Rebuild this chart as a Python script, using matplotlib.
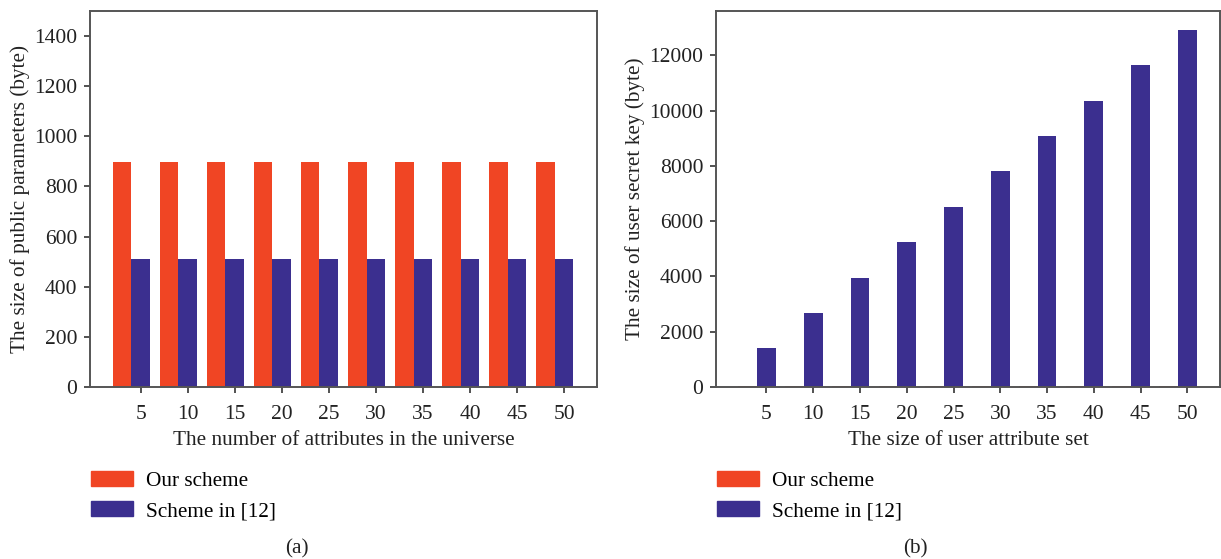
import numpy as np
import matplotlib.pyplot as plt
from matplotlib.patches import Patch

plt.rcParams['font.family'] = ['Liberation Serif', 'DejaVu Serif']

# nombre d'attributs (axe x des deux graphes)
attributs = [5, 10, 15, 20, 25, 30, 35, 40, 45, 50]

# (a) taille des parametres publics en octets
pp_notre = [896, 896, 896, 896, 896, 896, 896, 896, 896, 896]
pp_ref12 = [510, 510, 510, 510, 510, 510, 510, 510, 510, 510]

# (b) taille de la cle secrete utilisateur en octets
sk_notre = [45, 45, 45, 45, 45, 45, 45, 45, 45, 45]
sk_ref12 = [1400, 2660, 3960, 5230, 6520, 7800, 9090, 10360, 11650, 12920]

rouge = '#F04524'
bleu = '#3B2F8F'
gris = '#555555'
texte = '#222222'

fig = plt.figure(figsize=(12.21, 5.59), dpi=100)
ax1 = fig.add_axes([0.0737, 0.3077, 0.4152, 0.6726])
ax2 = fig.add_axes([0.5864, 0.3077, 0.4128, 0.6726])

x = np.arange(len(attributs))
larg = 0.4


def trace(ax, notre, ref, ymax, pas, xlabel, ylabel):
    ax.bar(x - larg, notre, larg, color=rouge, label='Our scheme')
    ax.bar(x, ref, larg, color=bleu, label='Scheme in [12]')
    ax.set_xlim(-1.08, 9.7)
    ax.set_ylim(0, ymax)
    ax.set_xticks(x)
    ax.set_xticklabels([str(a) for a in attributs])
    ax.set_yticks(np.arange(0, ymax, pas))
    ax.tick_params(labelsize=15.5, length=4, width=1.2, color='#333333',
                   labelcolor=texte, pad=5)
    ax.tick_params(axis='x', pad=9)
    for s in ax.spines.values():
        s.set_color(gris)
        s.set_linewidth(1.4)
    ax.set_xlabel(xlabel, fontsize=15.3, color=texte, labelpad=5)
    ax.set_ylabel(ylabel, fontsize=15.3, color=texte, labelpad=3)
    ax.legend(handles=[Patch(color=rouge, label='Our scheme'),
                       Patch(color=bleu, label='Scheme in [12]')],
              loc='upper left', bbox_to_anchor=(-0.015, -0.2),
              frameon=False, fontsize=15.3, handlelength=2.0,
              handleheight=0.7, handletextpad=0.6, labelspacing=0.5,
              borderaxespad=0)


trace(ax1, pp_notre, pp_ref12, 1500, 200,
      'The number of attributes in the universe',
      'The size of public parameters (byte)')
trace(ax2, sk_notre, sk_ref12, 13600, 2000,
      'The size of user attribute set',
      'The size of user secret key (byte)')

fig.text(297 / 1221, 1 - 549 / 559, '(a)', fontsize=15.3, ha='center',
         va='center', color=texte)
fig.text(915 / 1221, 1 - 549 / 559, '(b)', fontsize=15.3, ha='center',
         va='center', color=texte)

plt.savefig('out.png', dpi=100)
